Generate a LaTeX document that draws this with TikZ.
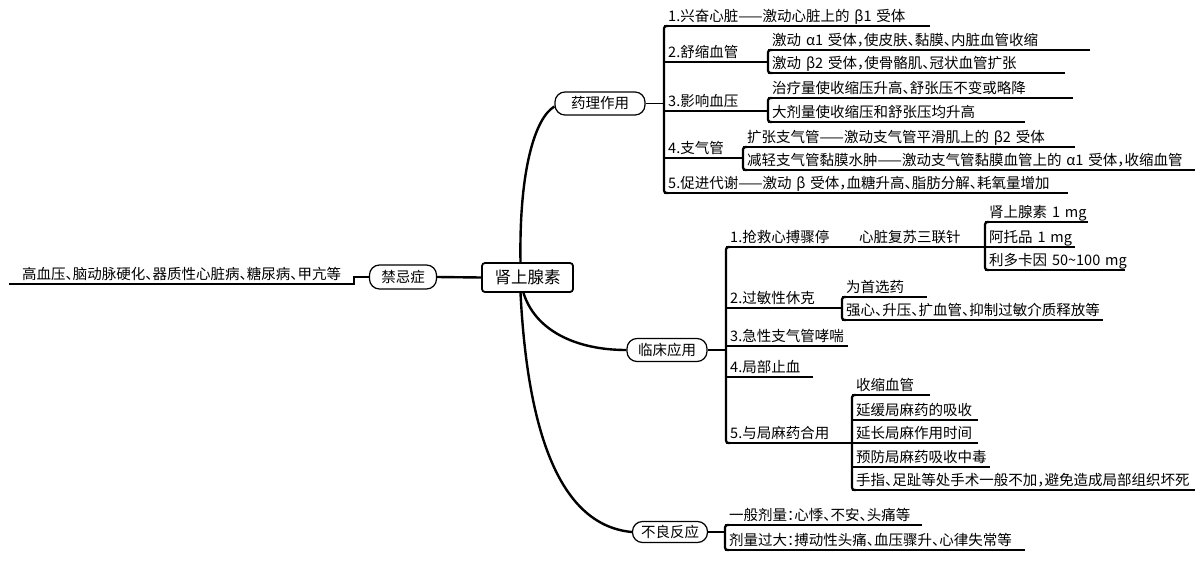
\documentclass[tikz,border=0pt]{standalone}
\usepackage{fontspec}
\setmainfont{Noto Sans CJK SC}[RawFeature=+halt]
\usepackage{tikz}

\begin{document}
\begin{tikzpicture}[x = 1pt, y = -1pt,
        ul/.style = {draw, line width = 1.3pt},
        leaf/.style = {anchor = south west, inner xsep = 4pt, inner ysep = 0pt, text width = #1, align = left,
                text height = 11pt, text depth = 4.5pt, font = \fontsize{14.5}{17}\selectfont,
                append after command = {(\tikzlastnode.south west) edge[ul] (\tikzlastnode.south east)}},
        topic/.style = {draw, line width = 1.2pt, rounded corners = 10pt, minimum width = #1, minimum height = 23pt,
                inner sep = 0pt, font = \fontsize{14.5}{17}\selectfont},
        brk/.style = {line width = 2.2pt, rounded corners = 2.5pt},
        limb/.style = {line width = 2.4pt},
        conn/.style = {line width = 1.3pt}]
        \useasboundingbox (0,0) rectangle (1200,562);

        \node[draw, line width = 1.8pt, rounded corners = 3pt, minimum width = 91pt, minimum height = 29pt,
                font = \fontsize{16.5}{19}\selectfont] (root) at (527.5,277.5) {肾上腺素};
        \node[topic = 90pt] (yl) at (600,103.5) {药理作用};
        \node[topic = 80pt] (lc) at (667,350) {临床应用};
        \node[topic = 75pt, minimum height = 21pt] (bl) at (670,532) {不良反应};
        \node[topic = 67pt, minimum height = 24pt] (jj) at (403,277) {禁忌症};

        \node[leaf = 258pt] (yl1) at (664,26) {1.兴奋心脏——激动心脏上的~β1~受体};
        \node[leaf = 96pt] (yl2) at (664,62) {2.舒缩血管};
        \node[leaf = 314pt] (yl2a) at (768,50) {激动~α1~受体，使皮肤、黏膜、内脏血管收缩};
        \node[leaf = 289pt] (yl2b) at (768,73) {激动~β2~受体，使骨骼肌、冠状血管扩张};
        \node[leaf = 96pt] (yl3) at (664,111) {3.影响血压};
        \node[leaf = 297pt] (yl3a) at (768,98) {治疗量使收缩压升高、舒张压不变或略降};
        \node[leaf = 249pt] (yl3b) at (768,122) {大剂量使收缩压和舒张压均升高};
        \node[leaf = 71pt] (yl4) at (664,158) {4.支气管};
        \node[leaf = 324pt] (yl4a) at (743,147) {扩张支气管——激动支气管平滑肌上的~β2~受体};
        \node[leaf = 444pt] (yl4b) at (743,170) {减轻支气管黏膜水肿——激动支气管黏膜血管上的~α1~受体，收缩血管};
        \node[leaf = 396pt] (yl5) at (664,193) {5.促进代谢——激动~β~受体，血糖升高、脂肪分解、耗氧量增加};

        \node[leaf = 121pt] (lc1) at (726,247) {1.抢救心搏骤停};
        \node[leaf = 122pt] (lc1a) at (855,247) {心脏复苏三联针};
        \node[leaf = 95pt] (lc1a1) at (985,222) {肾上腺素~1~mg};
        \node[leaf = 82pt] (lc1a2) at (985,247) {阿托品~1~mg};
        \node[leaf = 132pt] (lc1a3) at (985,270) {利多卡因~50\textasciitilde100~mg};
        \node[leaf = 108pt] (lc2) at (726,308) {2.过敏性休克};
        \node[leaf = 77pt] (lc2a) at (842,297) {为首选药};
        \node[leaf = 253pt] (lc2b) at (842,320) {强心、升压、扩血管、抑制过敏介质释放等};
        \node[leaf = 114pt] (lc3) at (726,346) {3.急性支气管哮喘};
        \node[leaf = 79pt] (lc4) at (726,377) {4.局部止血};
        \node[leaf = 118pt] (lc5) at (726,443) {5.与局麻药合用};
        \node[leaf = 70pt] (lc5a) at (852,395) {收缩血管};
        \node[leaf = 118pt] (lc5b) at (852,420) {延缓局麻药的吸收};
        \node[leaf = 118pt] (lc5c) at (852,443) {延长局麻作用时间};
        \node[leaf = 130pt] (lc5d) at (852,467) {预防局麻药吸收中毒};
        \node[leaf = 335pt] (lc5e) at (852,490) {手指、足趾等处手术一般不加，避免造成局部组织坏死};

        \node[leaf = 189pt] (bl1) at (725,525) {一般剂量：心悸、不安、头痛等};
        \node[leaf = 292pt] (bl2) at (725,550) {剂量过大：搏动性头痛、血压骤升、心律失常等};

        \node[leaf = 335pt] (jj1) at (9,284) {\hspace*{9pt}高血压、脑动脉硬化、器质性心脏病、糖尿病、甲亢等};

        \draw[limb] ([xshift = -7pt]root.north) .. controls (519,170) and (535,118) .. ([yshift = -3pt]yl.west);
        \draw[limb] ([xshift = -4pt]root.south) .. controls (535,330) and (575,350) .. (lc.west);
        \draw[limb] ([xshift = -7pt]root.south) .. controls (527,420) and (555,525) .. (bl.west);
        \draw[limb] (root.west) -- (jj.east);
        \draw[conn] (jj.west) -- ++(-15,0) |- (jj1.south east);

        \draw[conn] (yl.east) -- (yl.east -| yl1.south west);
        \draw[conn] (lc.east) -- (lc.east -| lc1.south west);
        \draw[conn] (bl.east) -- (bl.east -| bl1.south west);

        \draw[brk] ([xshift = 4pt]yl1.south west) -- (yl1.south west) -- (yl5.south west) -- ([xshift = 4pt]yl5.south west);
        \draw[brk] ([xshift = 4pt]yl2a.south west) -- (yl2a.south west) -- (yl2b.south west) -- ([xshift = 4pt]yl2b.south west);
        \draw[brk] ([xshift = 4pt]yl3a.south west) -- (yl3a.south west) -- (yl3b.south west) -- ([xshift = 4pt]yl3b.south west);
        \draw[brk] ([xshift = 4pt]yl4a.south west) -- (yl4a.south west) -- (yl4b.south west) -- ([xshift = 4pt]yl4b.south west);

        \draw[brk] ([xshift = 4pt]lc1.south west) -- (lc1.south west) -- (lc5.south west) -- ([xshift = 4pt]lc5.south west);
        \draw[brk] ([xshift = 4pt]lc1a1.south west) -- (lc1a1.south west) -- (lc1a3.south west) -- ([xshift = 4pt]lc1a3.south west);
        \draw[brk] ([xshift = 4pt]lc2a.south west) -- (lc2a.south west) -- (lc2b.south west) -- ([xshift = 4pt]lc2b.south west);
        \draw[brk] ([xshift = 4pt]lc5a.south west) -- (lc5a.south west) -- (lc5e.south west) -- ([xshift = 4pt]lc5e.south west);

        \draw[brk] ([xshift = 4pt]bl1.south west) -- (bl1.south west) -- (bl2.south west) -- ([xshift = 4pt]bl2.south west);
\end{tikzpicture}
\end{document}
